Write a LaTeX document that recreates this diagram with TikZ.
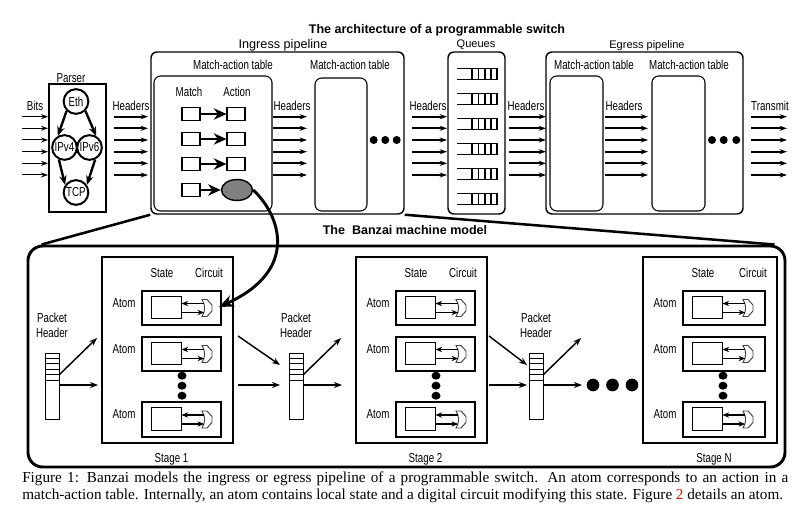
\documentclass[tikz,border=0pt]{standalone}
\usepackage{fontspec}
\setmainfont{Liberation Serif}
\newfontfamily\nsans[FakeStretch=0.75]{Liberation Sans}
\newfontfamily\psans{Liberation Sans}
\usetikzlibrary{arrows.meta,fit,shapes.geometric,calc}
\definecolor{figred}{RGB}{200,20,20}

\newcommand\drawstage[4]{%
  \node[stagebox, fit={(#2,257)(#2+#4,443)}] (#1) {};
  \node[lbl, anchor=base] (#1st) at (#2+60,277.5) {State};
  \node[lbl, anchor=base] (#1ci) at (#2+#4-24,277.5) {Circuit};
  \node[lbl, anchor=base] (#1lab) at (#2+#4/2+4,462) {#3};
  \foreach \r/\t/\b in {1/291/325,2/337/371,3/402/437}{%
    \pgfmathsetmacro\cy{(\t+\b)/2}
    \node[atombox, fit={(#2+40,\t)(#2+#4-12,\b)}] (#1a\r) {};
    \node[statebox, fit={(#2+49,\t+5)(#2+79,\b-7)}] (#1s\r) {};
    \node[lbl, anchor=base] (#1l\r) at (#2+22,\t+16.5) {Atom};
    \begin{scope}[shift={(#2+100,\cy)}]
      \draw[gate] (0,-8.5) -- (5,-8.5) -- (10,-3) -- (10,3) -- (5,8.5) -- (0,8.5) .. controls (3.5,3) and (3.5,-3) .. cycle;
      \coordinate (#1gt\r) at (1.8,-4.5);
      \coordinate (#1gb\r) at (2.2,4.5);
    \end{scope}
    \draw[atomarrow] (#1gt\r) -- (#1s\r.east |- #1gt\r);
    \draw[atomarrow] (#1s\r.east |- #1gb\r) -- (#1gb\r);
  }
  \foreach \k/\yy in {1/375.7,2/385.7,3/395.7}{\node[sdot] (#1d\k) at (#2+80,\yy) {};}
}

\newcommand\drawpacket[2]{%
  \node[pkbox, fit={(#2,353)(#2+14,419)}] (#1) {};
  \foreach \yy in {358,363.5,369,374.5,380}{\draw[pkline] (#1.west |- 0,\yy) -- (#1.east |- 0,\yy);}
  \node[lbl, anchor=base] (#1p) at (#2+7,322.3) {Packet};
  \node[lbl, anchor=base] (#1h) at (#2+7,337.7) {Header};
  \coordinate (#1o1) at (#2+14,375);
  \coordinate (#1o2) at (#2+14,385);
  \coordinate (#1t1) at (#2+52,338);
  \coordinate (#1t2) at (#2+53,385);
  \draw[flow] (#1o1) -- (#1t1);
  \draw[flow] (#1o2) -- (#1t2);
}

\begin{document}
\begin{tikzpicture}[x=0.75pt,y=-0.75pt,
  lbl/.style={font=\nsans\fontsize{9.75}{11}\selectfont, inner sep=0pt},
  plbl/.style={font=\psans\fontsize{8.25}{10}\selectfont, inner sep=0pt},
  ttl/.style={font=\psans\bfseries\fontsize{9.4}{11}\selectfont, inner sep=0pt},
  pipebox/.style={draw, line width=1.1pt, rounded corners=4.5pt, inner sep=0pt},
  matable/.style={draw, line width=0.8pt, rounded corners=5pt, inner sep=0pt},
  plainbox/.style={draw, line width=0.8pt, inner sep=0pt},
  mabox/.style={draw, line width=0.8pt, inner sep=0pt, minimum width=13.5pt, minimum height=9.75pt},
  pnode/.style={circle, draw, line width=1.5pt, inner sep=0pt, minimum size=18.5pt, font=\nsans\fontsize{9.75}{11}\selectfont},
  stagebox/.style={draw, line width=2.2pt, inner sep=0pt},
  atombox/.style={draw, line width=2.2pt, inner sep=0pt},
  statebox/.style={draw, line width=0.7pt, inner sep=0pt},
  pkbox/.style={draw, line width=0.7pt, inner sep=0pt},
  pkline/.style={line width=0.6pt},
  gate/.style={draw=black!75, line width=0.7pt},
  bzbox/.style={draw, line width=2.2pt, rounded corners=11pt, inner sep=0pt},
  thinarrow/.style={line width=0.75pt, -{Stealth[length=5.25pt,width=3.75pt]}},
  hdrarrow/.style={line width=1.5pt, -{Stealth[length=5.5pt,width=3.8pt]}},
  maarrow/.style={line width=2pt, -{Stealth[length=9.5pt,width=8.5pt]}},
  parrow/.style={line width=1.8pt, -{Stealth[length=7pt,width=5.5pt]}},
  flow/.style={line width=1.1pt, -{Stealth[length=6pt,width=4.5pt]}},
  atomarrow/.style={line width=0.8pt, -{Stealth[length=5pt,width=4pt]}},
  bigcurve/.style={line width=2.2pt, -{Stealth[length=11pt,width=9pt]}},
  zoomline/.style={line width=1.9pt},
  tdot/.style={circle, fill, inner sep=0pt, minimum size=6pt},
  sdot/.style={ellipse, fill, inner sep=0pt, minimum width=6.75pt, minimum height=6pt},
  bdot/.style={circle, fill, inner sep=0pt, minimum size=9.5pt},
  qline/.style={line width=1.4pt},
  qthin/.style={line width=1pt},
  captext/.style={anchor=base west, inner sep=0pt, font=\fontsize{11.4}{13}\selectfont}
]
\fill[white] (0,0) rectangle (801,510);
\useasboundingbox (0,0) rectangle (801,510);

% titles
\node[ttl, anchor=base] (title) at (437,33.3) {The architecture of a programmable switch};
\node[ttl, anchor=base] (bztitle) at (405,234) {The\ \ Banzai machine model};

% parser
\node[plainbox, fit={(49,84)(106,212)}] (parser) {};
\node[lbl, anchor=base] (parserlab) at (71,82.7) {Parser};
\node[pnode] (eth) at (76,101.5) {Eth};
\node[pnode] (ipv4) at (64.5,147.5) {IPv4};
\node[pnode] (ipv6) at (89.5,147.5) {IPv6};
\node[pnode] (tcp) at (76,192.5) {TCP};
\draw[parrow] (eth.225) -- (ipv4.120);
\draw[parrow] (eth.315) -- (ipv6.60);
\draw[parrow] (ipv4.245) -- (tcp.145);
\draw[parrow] (ipv6.295) -- (tcp.35);

% ingress
\node[pipebox, fit={(151,52)(404,214)}] (ing) {};
\node[lbl, anchor=base, font=\psans\fontsize{9.5}{11}\selectfont] (inglab) at (283,49) {Ingress pipeline};
\node[matable, fit={(154,76)(272,211)}] (ma1) {};
\node[lbl, anchor=base] (ma1lab) at (233,70) {Match-action table};
\node[matable, fit={(315,78)(367,211)}] (ma2) {};
\node[lbl, anchor=base] (ma2lab) at (350,70) {Match-action table};
\node[lbl, anchor=base] (matchlab) at (189,96.7) {Match};
\node[lbl, anchor=base] (actionlab) at (237,96.7) {Action};
\foreach \i/\yy in {1/114,2/139,3/164,4/190}{
  \node[mabox] (m\i) at (191,\yy) {};
}
\foreach \i/\yy in {1/114,2/139,3/164}{
  \node[mabox] (a\i) at (236,\yy) {};
  \draw[maarrow] (m\i) -- (a\i);
}
\node[ellipse, draw, line width=1.1pt, fill=black!50, minimum width=23.25pt, minimum height=15.75pt, inner sep=0pt] (ell) at (237,190) {};
\draw[maarrow] (m4) -- (ell);
\node[tdot] (id1) at (373.7,140) {};
\node[tdot] (id2) at (385.3,140) {};
\node[tdot] (id3) at (396.7,140) {};

% queues
\node[pipebox, fit={(448,52)(505,214)}] (queues) {};
\node[lbl, anchor=base, font=\psans\fontsize{8.25}{10}\selectfont] (queuelab) at (476,48) {Queues};
\foreach \yy in {74,99,124,149,174,199}{
  \draw[qline] (457,\yy-5.5) -- (497,\yy-5.5) -- (497,\yy+5.5) -- (457,\yy+5.5);
  \foreach \xx in {472,478.5,485,491}{\draw[qthin] (\xx,\yy-5.5) -- (\xx,\yy+5.5);}
}

% egress
\node[pipebox, fit={(546,52)(743,214)}] (egr) {};
\node[lbl, anchor=base, font=\psans\fontsize{8.25}{10}\selectfont] (egrlab) at (647,49) {Egress pipeline};
\node[matable, fit={(550,76)(603,211)}] (ema1) {};
\node[lbl, anchor=base] (ema1lab) at (594,70) {Match-action table};
\node[matable, fit={(652,76)(705,211)}] (ema2) {};
\node[lbl, anchor=base] (ema2lab) at (689,70) {Match-action table};
\node[tdot] (ed1) at (712,140) {};
\node[tdot] (ed2) at (723.7,140) {};
\node[tdot] (ed3) at (736.3,140) {};

% arrow bundles
\node[lbl, anchor=base] (bitslab) at (35,110.7) {Bits};
\node[lbl, anchor=base] (h1lab) at (131,110.7) {Headers};
\node[lbl, anchor=base] (h2lab) at (292,110.7) {Headers};
\node[lbl, anchor=base] (h3lab) at (428,110.7) {Headers};
\node[lbl, anchor=base] (h4lab) at (526,110.7) {Headers};
\node[lbl, anchor=base] (h5lab) at (624,110.7) {Headers};
\node[lbl, anchor=base] (txlab) at (770,110.7) {Transmit};
\foreach \k/\yy in {1/116.7,2/128.3,3/140,4/151.7,5/163.3,6/175}{
  \coordinate (bs\k) at (22,\yy);   \coordinate (be\k) at (48,\yy);
  \draw[thinarrow] (bs\k) -- (be\k);
  \foreach \g/\xs/\xe in {1/114/148,2/273/307,3/412/447,4/509/546,5/605/648,6/751/787}{
    \coordinate (hs\g-\k) at (\xs,\yy); \coordinate (he\g-\k) at (\xe,\yy);
    \draw[hdrarrow] (hs\g-\k) -- (he\g-\k);
  }
}

% Banzai machine model
\node[bzbox, fit={(28,246)(785,467)}] (bz) {};
\draw[zoomline] (ing.south west) -- ($(bz.north west)+(15,0)$);
\draw[zoomline] (ing.south east) -- ($(bz.north east)+(-12,0)$);

\drawstage{s1}{102}{Stage 1}{131}
\drawstage{s2}{356}{Stage 2}{131}
\drawstage{sn}{643}{Stage N}{134}
\drawpacket{p1}{45}
\drawpacket{p2}{289}
\drawpacket{p3}{529}

\coordinate (s1o1) at (238,336); \coordinate (s1e1) at (280,365);
\coordinate (s1o2) at (238,385); \coordinate (s1e2) at (280,385);
\coordinate (s2o1) at (489,336); \coordinate (s2e1) at (527,365);
\coordinate (s2o2) at (489,385); \coordinate (s2e2) at (527,385);
\draw[flow] (s1o1) -- (s1e1);
\draw[flow] (s1o2) -- (s1e2);
\draw[flow] (s2o1) -- (s2e1);
\draw[flow] (s2o2) -- (s2e2);
\node[bdot] (bd1) at (593,385) {};
\node[bdot] (bd2) at (612.5,385) {};
\node[bdot] (bd3) at (632,385) {};

% curve from action to atom
\coordinate (curveend) at (219,307);
\draw[bigcurve] (ell.east) .. controls (280,215) and (300,270) .. (curveend);

% caption
\node[captext] (cap1) at (22,482) {\makebox[574.5pt][s]{Figure 1: Banzai models the ingress or egress pipeline of a programmable switch. An atom corresponds to an action in a}};
\node[captext] (cap2) at (22,499) {match-action table. Internally, an atom contains local state and a digital circuit modifying this state. Figure {\color{figred}2} details an atom.};
\end{tikzpicture}
\end{document}
